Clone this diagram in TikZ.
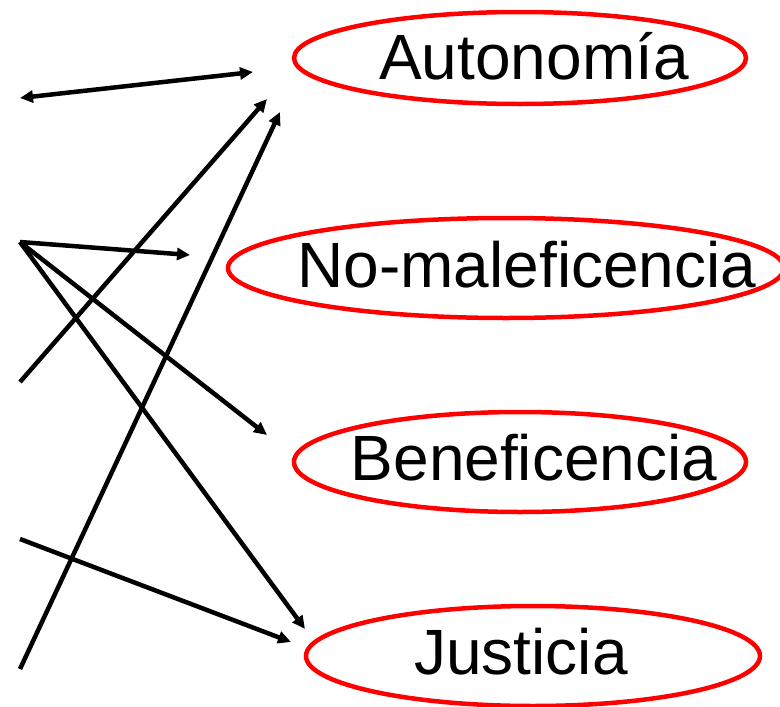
\documentclass[tikz,border=0pt]{standalone}
\usepackage{fontspec}
\setmainfont{Liberation Sans}
\usetikzlibrary{arrows.meta,shapes.geometric}
\begin{document}
\begin{tikzpicture}[x=1pt,y=-1pt,
  oval/.style={draw=red,line width=4.5pt,ellipse,inner sep=0pt},
  lbl/.style={anchor=base,inner sep=0pt,font=\fontsize{64}{70}\selectfont},
  arr/.style={line width=4.5pt,-{Triangle[length=13pt,width=12pt]}},
  darr/.style={line width=4.5pt,{Triangle[length=13pt,width=12pt]}-{Triangle[length=13pt,width=12pt]}}]
\useasboundingbox (0,0) rectangle (780,707);
% ellipses
\node[oval,minimum width=452pt,minimum height=92pt] (eA) at (520,58) {};
\node[oval,minimum width=556pt,minimum height=100pt] (eN) at (506,268) {};
\node[oval,minimum width=452pt,minimum height=100pt] (eB) at (520,462) {};
\node[oval,minimum width=454pt,minimum height=100pt] (eJ) at (533,656) {};
% labels
\node[lbl] (tA) at (534,79) {Autonomía};
\node[lbl] (tN) at (527,287) {No-maleficencia};
\node[lbl] (tB) at (534,480) {Beneficencia};
\node[lbl] (tJ) at (521,674) {Justicia};
% free ends
\coordinate (s1) at (20,98);
\coordinate (t1) at (253,72);
\coordinate (s2) at (20,242);
\coordinate (t2) at (190,255);
\coordinate (t3) at (267,435);
\coordinate (t4) at (305,629);
\coordinate (s5) at (20,382);
\coordinate (t5) at (267,99);
\coordinate (s6) at (20,539);
\coordinate (t6) at (291,642);
\coordinate (s7) at (20,669);
\coordinate (t7) at (280,112);
% connectors
\draw[darr] (s1) -- (t1);
\draw[arr] (s2) -- (t2);
\draw[arr] (s2) -- (t3);
\draw[arr] (s2) -- (t4);
\draw[arr] (s5) -- (t5);
\draw[arr] (s6) -- (t6);
\draw[arr] (s7) -- (t7);
\end{tikzpicture}
\end{document}
